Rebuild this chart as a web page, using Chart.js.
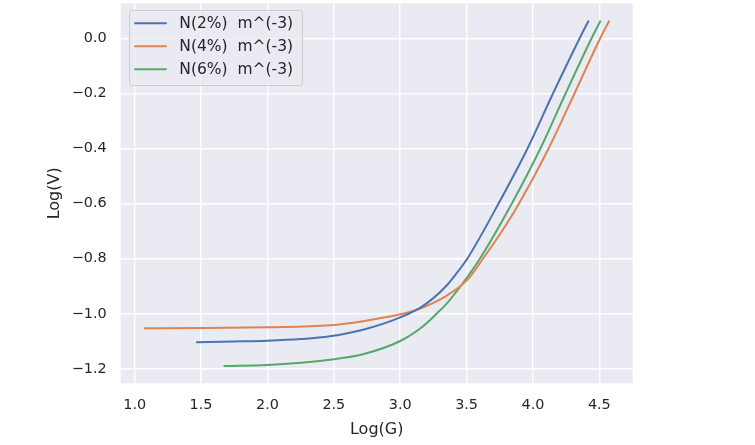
<!DOCTYPE html>
<html>
<head>
<meta charset="utf-8">
<script src="https://cdn.jsdelivr.net/npm/chart.js@4.4.1/dist/chart.umd.min.js"></script>
<style>
  html, body { margin: 0; padding: 0; background: #ffffff; }
  #wrap { width: 755px; height: 445px; }
</style>
</head>
<body>
<div id="wrap"><canvas id="chart" width="755" height="445"></canvas></div>
<script>
// values
const seriesLabels = ['N(2%)  m^(-3)', 'N(4%)  m^(-3)', 'N(6%)  m^(-3)'];
const seriesColors = ['#4c72b0', '#dd8452', '#55a868'];

const logG2 = [1.463, 1.75, 2.0, 2.25, 2.47, 2.72, 3.0, 3.17, 3.345, 3.445, 3.505, 3.74, 3.958, 4.15, 4.35, 4.42];
const logV2 = [-1.104, -1.101, -1.098, -1.092, -1.082, -1.058, -1.013, -0.972, -0.90, -0.84, -0.80, -0.60, -0.40, -0.20, 0.0, 0.066];

const logG4 = [1.07, 1.5, 2.0, 2.47, 2.72, 3.0, 3.145, 3.345, 3.51, 3.623, 3.766, 3.894, 4.117, 4.312, 4.505, 4.576];
const logV4 = [-1.053, -1.052, -1.049, -1.042, -1.027, -1.002, -0.982, -0.936, -0.874, -0.80, -0.70, -0.60, -0.40, -0.20, 0.0, 0.066];

const logG6 = [1.67, 2.0, 2.25, 2.47, 2.72, 3.0, 3.17, 3.28, 3.345, 3.47, 3.6, 3.84, 4.055, 4.245, 4.44, 4.51];
const logV6 = [-1.19, -1.186, -1.178, -1.167, -1.147, -1.099, -1.046, -0.997, -0.966, -0.89, -0.80, -0.60, -0.40, -0.20, 0.0, 0.066];

const xTicks = [1.0, 1.5, 2.0, 2.5, 3.0, 3.5, 4.0, 4.5];
const yTicks = [-1.2, -1.0, -0.8, -0.6, -0.4, -0.2, 0.0];

function toPoints(xs, ys) {
    return xs.map((x, i) => ({ x: x, y: ys[i] }));
}

// matplotlib style 5% margins around the data
const allX = logG2.concat(logG4, logG6);
const allY = logV2.concat(logV4, logV6);
const xMin = Math.min(...allX), xMax = Math.max(...allX);
const yMin = Math.min(...allY), yMax = Math.max(...allY);
const xPad = (xMax - xMin) * 0.05, yPad = (yMax - yMin) * 0.05;

function fmt(v) {
    return v.toFixed(1).replace('-', '\u2212');
}

const tickFont = { family: 'DejaVu Sans', size: 14.4 };
const titleFont = { family: 'DejaVu Sans', size: 16 };

const plotBackground = {
    id: 'plotBackground',
    beforeDraw(chart) {
        const a = chart.chartArea;
        const c = chart.ctx;
        c.save();
        c.fillStyle = '#eaeaf2';
        c.fillRect(a.left, a.top, a.right - a.left, a.bottom - a.top);
        c.restore();
    }
};

const boxLegend = {
    id: 'boxLegend',
    afterDatasetsDraw(chart) {
        const c = chart.ctx;
        const x = 129, y = 10, w = 173, h = 75, r = 3;
        c.save();
        c.beginPath();
        c.roundRect(x + 0.5, y + 0.5, w, h, r);
        c.fillStyle = 'rgba(234,234,242,0.8)';
        c.fill();
        c.strokeStyle = '#cccccc';
        c.lineWidth = 1;
        c.stroke();
        c.font = '15.5px "DejaVu Sans"';
        c.textBaseline = 'middle';
        chart.data.datasets.forEach((ds, i) => {
            const ry = 23.3 + i * 23;
            c.beginPath();
            c.moveTo(134.3, ry);
            c.lineTo(166.7, ry);
            c.strokeStyle = ds.borderColor;
            c.lineWidth = 2;
            c.stroke();
            c.fillStyle = '#262626';
            c.fillText(ds.label, 179.3, ry + 0.5);
        });
        c.restore();
    }
};

const datasets = [[logG2, logV2], [logG4, logV4], [logG6, logV6]].map((s, i) => ({
    label: seriesLabels[i],
    data: toPoints(s[0], s[1]),
    borderColor: seriesColors[i],
    backgroundColor: seriesColors[i],
    borderWidth: 2,
    pointRadius: 0,
    showLine: true,
    cubicInterpolationMode: 'monotone'
}));

new Chart(document.getElementById('chart').getContext('2d'), {
    type: 'scatter',
    data: { datasets: datasets },
    options: {
        responsive: false,
        animation: false,
        layout: { padding: { left: 45, right: 122.3, top: 3.3, bottom: 6 } },
        plugins: {
            legend: { display: false },
            tooltip: { enabled: false }
        },
        scales: {
            x: {
                type: 'linear',
                min: xMin - xPad,
                max: xMax + xPad,
                afterBuildTicks: function(scale) {
                    scale.ticks = xTicks.map(v => ({ value: v }));
                },
                afterFit: function(scale) {
                    scale.height = 55.7;
                    scale.paddingLeft = 0;
                    scale.paddingRight = 0;
                },
                grid: { color: '#ffffff', lineWidth: 1.4, drawTicks: false },
                border: { display: false },
                ticks: {
                    color: '#262626',
                    font: tickFont,
                    padding: 13,
                    maxRotation: 0,
                    callback: v => fmt(v)
                },
                title: {
                    display: true,
                    text: 'Log(G)',
                    color: '#262626',
                    font: titleFont,
                    padding: 0
                }
            },
            y: {
                type: 'linear',
                min: yMin - yPad,
                max: yMax + yPad,
                afterBuildTicks: function(scale) {
                    scale.ticks = yTicks.map(v => ({ value: v }));
                },
                afterFit: function(scale) {
                    scale.width = 75.7;
                    scale.paddingTop = 0;
                    scale.paddingBottom = 0;
                },
                grid: { color: '#ffffff', lineWidth: 1.4, drawTicks: false },
                border: { display: false },
                ticks: {
                    color: '#262626',
                    font: tickFont,
                    padding: 14,
                    callback: v => fmt(v)
                },
                title: {
                    display: true,
                    text: 'Log(V)',
                    color: '#262626',
                    font: titleFont,
                    padding: 0
                }
            }
        }
    },
    plugins: [plotBackground, boxLegend]
});
</script>
</body>
</html>
